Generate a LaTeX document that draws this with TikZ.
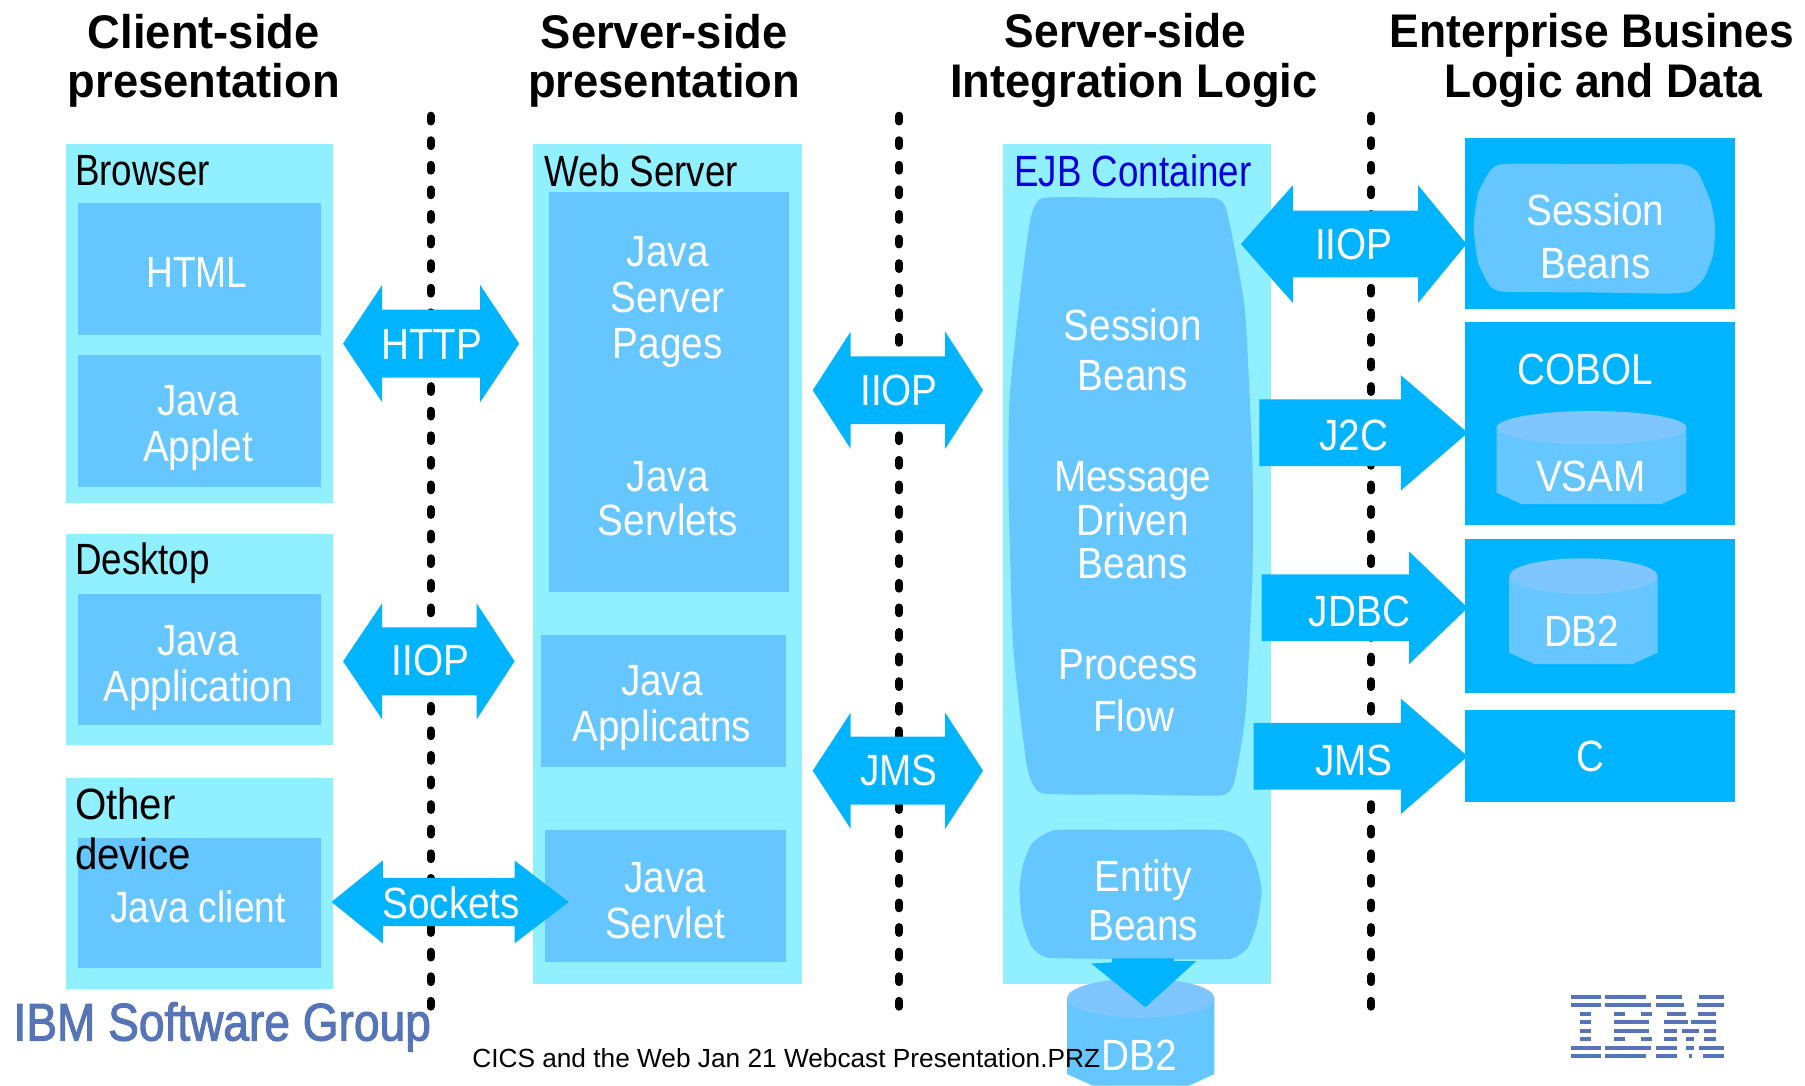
\documentclass[tikz,border=0pt]{standalone}
\usepackage{fontspec}
\setmainfont{Liberation Sans}
\newfontfamily\bodyfam[FakeStretch=0.885]{Liberation Sans}
\newfontfamily\narrowfam[FakeStretch=0.85]{Liberation Sans}
\newfontfamily\capfam[FakeStretch=0.84]{Liberation Sans}
\newfontfamily\otherfam[FakeStretch=0.92]{Liberation Sans}
\newfontfamily\titlefam[FakeStretch=0.96]{Liberation Sans}
\newfontfamily\titlenfam[FakeStretch=0.94]{Liberation Sans}
\newfontfamily\logofam[FakeStretch=0.87,FakeBold=2]{Liberation Sans}
\definecolor{lightb}{HTML}{90F0FF}
\definecolor{midb}{HTML}{66C6FF}
\definecolor{darkb}{HTML}{00B4FF}
\definecolor{topb}{HTML}{7FC6FF}
\definecolor{ejbtxt}{HTML}{0000DD}
\definecolor{logob}{HTML}{5675B8}
\tikzset{
  outerbox/.style={fill=lightb},
  innerbox/.style={fill=midb},
  darkbox/.style={fill=darkb},
  blockarrow/.style={fill=darkb},
  sepline/.style={black,line width=7pt,line cap=round,dash pattern=on 5pt off 16.36pt},
  lbl/.style={inner sep=0pt,text=white,align=center,font=\bodyfam\fontsize{38}{40}\selectfont},
  lblw/.style={lbl,font=\bodyfam\fontsize{38}{43}\selectfont},
  lbln/.style={lbl,font=\narrowfam\fontsize{38}{40}\selectfont},
  boxcap/.style={inner sep=0pt,anchor=west,text=black,font=\capfam\fontsize{38}{43}\selectfont},
  coltitle/.style={inner sep=0pt,align=center,text=black,font=\titlefam\bfseries\fontsize{41}{43}\selectfont},
  coltitlen/.style={coltitle,font=\titlenfam\bfseries\fontsize{41}{43}\selectfont},
}
% double block arrow: tipL, baseL, baseR, tipR, ycenter, half shaft, half head
\newcommand{\dblarrow}[7]{\fill[blockarrow] (#1,#5) -- (#2,#5-#7) -- (#2,#5-#6) -- (#3,#5-#6) -- (#3,#5-#7) -- (#4,#5) -- (#3,#5+#7) -- (#3,#5+#6) -- (#2,#5+#6) -- (#2,#5+#7) -- cycle;}
% right block arrow: left, base, tip, ycenter, half shaft, half head
\newcommand{\rgtarrow}[6]{\fill[blockarrow] (#1,#4-#5) -- (#2,#4-#5) -- (#2,#4-#6) -- (#3,#4) -- (#2,#4+#6) -- (#2,#4+#5) -- (#1,#4+#5) -- cycle;}
% cylinder: x1,x2,ytop,yellipsebottom,ybottom
\newcommand{\cylinder}[5]{%
  \fill[midb] (#1,{(#3+#4)/2}) -- (#2,{(#3+#4)/2}) -- (#2,#5-10) -- (#2-22,#5) -- (#1+22,#5) -- (#1,#5-10) -- cycle;
  \fill[topb] ({(#1+#2)/2},{(#3+#4)/2}) ellipse [x radius={(#2-#1)/2}, y radius={(#4-#3)/2}];}
\begin{document}
\begin{tikzpicture}[x=1pt,y=-1pt]
\useasboundingbox (0,0) rectangle (1568,943);
% separators
\foreach \n/\x in {a/374,b/781,c/1191}{
  \coordinate (sep\n top) at (\x,100.5);
  \coordinate (sep\n bot) at (\x,874.6);
  \draw[sepline] (sep\n top) -- (sep\n bot);
}
% column titles
\node[coltitle] (t1) at (177,53) {Client-side\\presentation};
\node[coltitle] (t2) at (577,53) {Server-side\\presentation};
\node[coltitlen] (t3a) at (978,27) {Server-side};
\node[coltitle] (t3b) at (985,74) {Integration Logic};
\node[coltitlen] (t4a) at (1383,31) {Enterprise Busines};
\node[coltitlen] (t4b) at (1393,74) {Logic and Data};
% outer boxes
\fill[outerbox] (57,125) rectangle (289,437);
\fill[outerbox] (57,464) rectangle (289,647);
\fill[outerbox] (57,676) rectangle (289,859);
\fill[outerbox] (463,125) rectangle (697,855);
\fill[outerbox] (871,125) rectangle (1104,855);
% inner boxes, left
\fill[innerbox] (68,176) rectangle (279,291);
\fill[innerbox] (68,308) rectangle (279,423);
\fill[innerbox] (68,516) rectangle (279,630);
\fill[innerbox] (68,728) rectangle (279,841);
\fill[innerbox] (477,167) rectangle (685,514);
\fill[innerbox] (470,552) rectangle (683,666);
\fill[innerbox] (473,721) rectangle (683,836);
% right dark boxes
\fill[darkbox] (1273,120) rectangle (1507,268);
\fill[darkbox] (1273,280) rectangle (1507,456);
\fill[darkbox] (1273,468) rectangle (1507,602);
\fill[darkbox] (1273,617) rectangle (1507,697);
% blobs
\fill[innerbox] plot[smooth cycle,tension=.3] coordinates {(906,172) (980,172) (1054,172) (1065,181) (1075,229) (1082,275) (1088,403) (1088,500) (1082,620) (1072,680) (1060,691) (980,690) (905,689) (892,665) (880,560) (876,420) (877,345) (886,258) (895,191)};
\fill[innerbox] plot[smooth cycle,tension=.3] coordinates {(1306,142.4) (1385,142.4) (1460,142.4) (1475,150) (1486,175) (1490,197) (1488,222) (1480,242) (1468,253) (1450,255) (1380,254) (1306,253.4) (1294,248) (1284,228) (1280,197) (1284,168) (1294,149)};
\fill[innerbox] plot[smooth cycle,tension=.3] coordinates {(917,721) (990,721) (1061,721) (1080,729) (1091,750) (1096,773) (1092,802) (1084,823) (1068,833) (990,833) (911,832) (896,822) (888,800) (885.6,773) (889,750) (897,732)};
% cylinders
\cylinder{1300}{1465}{357}{386}{438}
\cylinder{1311}{1440}{485}{516}{577}
\cylinder{927}{1055}{850}{884}{943}
% block arrows
\dblarrow{298}{332}{417}{451}{298.5}{29.5}{51}
\dblarrow{298}{332}{414}{447}{574.5}{29.5}{50.5}
\dblarrow{288}{332.5}{447}{494}{783.5}{21}{36}
\dblarrow{706}{739}{821}{854}{339}{29.5}{51}
\dblarrow{706}{739}{821}{854}{669.5}{29.5}{50.5}
\dblarrow{1078}{1123}{1232}{1274}{212}{29}{51}
\rgtarrow{1094}{1217}{1275}{376}{29}{50}
\rgtarrow{1096}{1224}{1275}{528}{29}{49}
\rgtarrow{1089}{1217}{1275}{657}{29}{50}
\fill[blockarrow] (966,832.5) -- (1020,832.5) -- (1020,835) -- (1039,835) -- (995,875) -- (948,837) -- (966,836) -- cycle;
% captions
\node[boxcap] (browser) at (65,148) {Browser};
\node[boxcap] (desktop) at (65,489) {Desktop};
\node[boxcap,align=left,font=\otherfam\fontsize{38}{43}\selectfont] (other) at (65,720) {Other\\device};
\node[boxcap] (webserver) at (473,148) {Web Server};
\node[boxcap,text=ejbtxt] (ejb) at (881,148) {EJB Container};
% labels
\node[lbln] (html) at (171,237) {HTML};
\node[lbl] (applet) at (172,372) {Java\\Applet};
\node[lbl] (japp) at (172,580) {Java\\Application};
\node[lbln] (jclient) at (172,788) {Java client};
\node[lbl] (jsp) at (580,262) {Java\\Server\\Pages};
\node[lbl,font=\bodyfam\fontsize{38}{38}\selectfont] (servlets) at (580,433) {Java\\Servlets};
\node[lbl] (applicatns) at (575,615) {Java\\Applicatns};
\node[lbl] (servlet) at (578,782) {Java\\Servlet};
\node[lblw] (sb) at (984,304) {Session\\Beans};
\node[lbl,font=\bodyfam\fontsize{38}{38}\selectfont] (mdb) at (984,452) {Message\\Driven\\Beans};
\node[lbl] (pf1) at (980,577) {Process};
\node[lbl] (pf2) at (985,622) {Flow};
\node[lblw] (eb) at (993,782) {Entity\\Beans};
\node[lblw,font=\bodyfam\fontsize{38}{46}\selectfont] (sbr) at (1386,205) {Session\\Beans};
\node[lbl] (cobol) at (1377,321) {COBOL};
\node[lbl] (vsam) at (1382,414) {VSAM};
\node[lbl] (db2a) at (1374,548) {DB2};
\node[lbl] (cnode) at (1382,657) {C};
\node[lbl] (db2b) at (990,917) {DB2};
\node[lbl] (http) at (375,299) {HTTP};
\node[lbl] (iiopa) at (374,574) {IIOP};
\node[lbl] (sockets) at (392,784) {Sockets};
\node[lbl] (iiopb) at (781,339) {IIOP};
\node[lbl] (jmsa) at (781,669) {JMS};
\node[lbl] (iiopc) at (1176,212) {IIOP};
\node[lbl] (j2c) at (1176,378) {J2C};
\node[lbl] (jdbc) at (1181,531) {JDBC};
\node[lbl] (jmsb) at (1176,661) {JMS};
% footer
\node[inner sep=0pt,text=logob,font=\logofam\fontsize{46}{46}\selectfont] (ibmsg) at (193,892) {IBM Software Group};
\node[inner sep=0pt,text=black,font=\fontsize{22.8}{23}\selectfont] (foot) at (683,919) {CICS and the Web Jan 21 Webcast Presentation.PRZ};
% IBM logo
\begin{scope}[shift={(868.7,694.9)},x=.446pt,y=-.2896pt]
\foreach \y/\s in {591/{1112/1170,1178/1258,1278/1328,1362/1410},
  616/{1112/1170,1178/1268,1278/1332,1358/1410},
  642/{1130/1152,1196/1218,1248/1270,1300/1336,1360/1395},
  667/{1130/1152,1196/1265,1294/1340,1346/1395},
  692/{1130/1152,1196/1265,1294/1318,1328/1362,1372/1395},
  717/{1130/1152,1196/1218,1248/1270,1294/1318,1336/1352,1372/1395},
  743/{1112/1170,1178/1268,1278/1318,1336/1352,1362/1410},
  768/{1112/1170,1178/1258,1278/1318,1342/1348,1370/1410}}{
  \foreach \a/\b in \s {\fill[logob] (\a,\y-6) rectangle (\b,\y+6);}
}
\end{scope}
\end{tikzpicture}
\end{document}
